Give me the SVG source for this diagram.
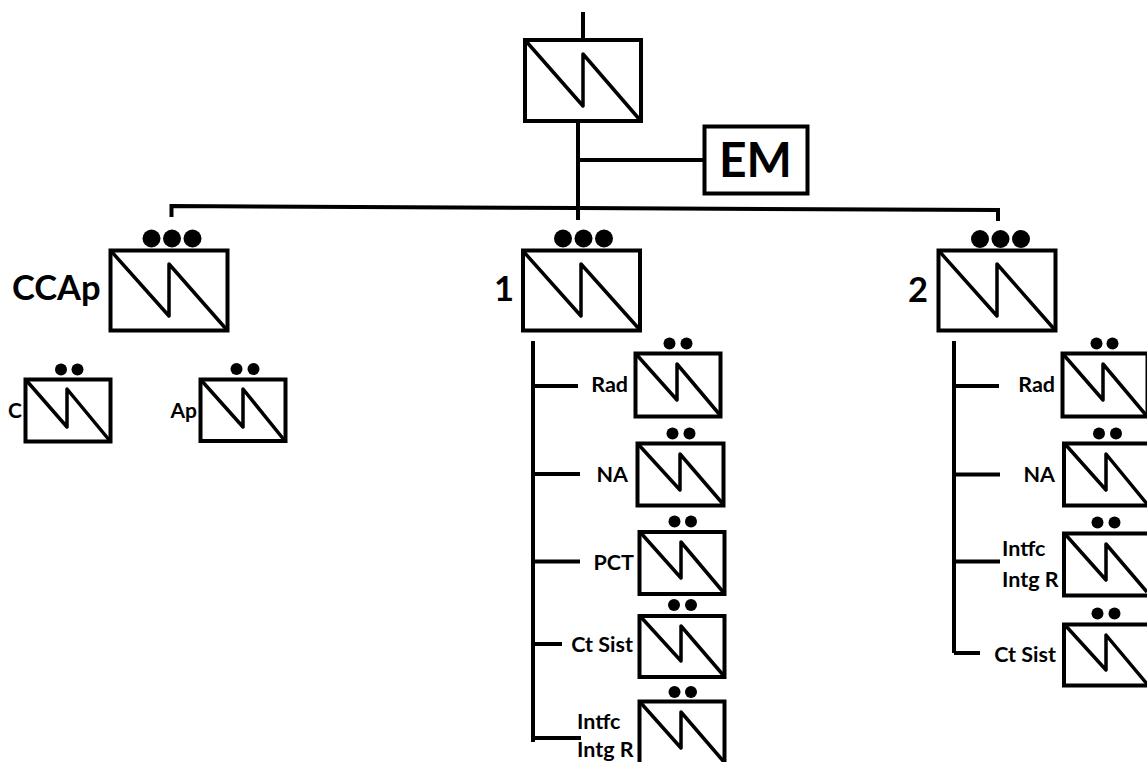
<svg xmlns="http://www.w3.org/2000/svg" width="1147" height="762" viewBox="0 0 1147 762">
<style>
.b{fill:#fff;stroke:#000;stroke-width:4}
.z{fill:none;stroke:#000;stroke-width:3.500;stroke-linejoin:round}
.c{fill:none;stroke:#000;stroke-width:4}
.t{font-family:"Lato","Carlito","Liberation Sans",sans-serif;font-weight:700;fill:#000}
.m{font-size:21.500px}.l{font-size:34.500px}.k{font-size:21px}
.e{text-anchor:end}
</style>
<rect width="1147" height="762" fill="#fff"/>
<g id="connectors">
<path class="c" d="M583 12V38"/>
<path class="c" d="M578 122V220M578 160H703"/>
<path class="c" d="M171.500 217V206L578 208L998 210V221"/>
<path class="c" d="M533 341V742M533 386H578M533 474H580M533 561.500H580M533 644H562M533 738H581"/>
<path class="c" d="M954 341V653M954 386H999M954 474.500H1000M954 561.500H1000M954 653H980"/>
</g>
<g id="node-top">
<rect class="b" x="525" y="40" width="116" height="81"/><path class="z" d="M525 40L583 106V54L640 120"/>
</g>
<g id="node-em">
<rect class="b" x="704.500" y="126.500" width="103" height="67"/>
<text class="t" x="755.500" y="177" font-size="48" text-anchor="middle">EM</text>
</g>
<g id="node-ccap">
<circle cx="151.500" cy="238.500" r="9"/><circle cx="172" cy="238.500" r="9"/><circle cx="192.500" cy="238.500" r="9"/>
<rect class="b" x="110.500" y="250.500" width="117" height="80"/><path class="z" d="M111 251L169 316V264L227 330"/>
<text class="t l" x="12" y="300">CCAp</text>
</g>
<g id="node-1">
<circle cx="563" cy="238.500" r="9"/><circle cx="583.500" cy="238.500" r="9"/><circle cx="604" cy="238.500" r="9"/>
<rect class="b" x="523" y="250.500" width="117" height="80"/><path class="z" d="M523 251L581 316V264L640 330"/>
<text class="t l" x="494" y="301">1</text>
</g>
<g id="node-2">
<circle cx="980" cy="239" r="9"/><circle cx="1000.500" cy="239" r="9"/><circle cx="1021" cy="239" r="9"/>
<rect class="b" x="938.500" y="250.500" width="117" height="80"/><path class="z" d="M939 251L997 316V264L1055 330"/>
<text class="t l" x="908" y="302">2</text>
</g>
<g id="node-c">
<circle cx="61" cy="369.500" r="6"/><circle cx="77.500" cy="369.500" r="6"/>
<rect class="b" x="25.500" y="379.500" width="85" height="62"/><path class="z" d="M26 380L67 427V389L110 441"/>
<text class="t k" x="8" y="418">C</text>
</g>
<g id="node-ap">
<circle cx="236.500" cy="369" r="6"/><circle cx="253.500" cy="369" r="6"/>
<rect class="b" x="200.500" y="379.500" width="85" height="61.500"/><path class="z" d="M201 380L243 427V389L285 441"/>
<text class="t k e" x="197" y="418">Ap</text>
</g>
<g id="node-1-rad">
<circle cx="669.500" cy="343.500" r="6"/><circle cx="686.500" cy="343.500" r="6"/>
<rect class="b" x="635.500" y="353.500" width="85" height="63"/><path class="z" d="M636 354L677 400V364L720 415"/>
<text class="t m e" x="628" y="392">Rad</text>
</g>
<g id="node-1-na">
<circle cx="672.500" cy="433.500" r="6"/><circle cx="689.500" cy="433.500" r="6"/>
<rect class="b" x="637.500" y="443.500" width="86" height="62"/><path class="z" d="M638 444L680 490V454L723 504"/>
<text class="t m e" x="628" y="482">NA</text>
</g>
<g id="node-1-pct">
<circle cx="674.500" cy="521.500" r="6"/><circle cx="691" cy="521.500" r="6"/>
<rect class="b" x="639.500" y="532" width="85" height="62"/><path class="z" d="M640 532L681 578V542L724 593"/>
<text class="t m e" x="634" y="570">PCT</text>
</g>
<g id="node-1-ct">
<circle cx="674" cy="605" r="6"/><circle cx="691" cy="605" r="6"/>
<rect class="b" x="639.500" y="616" width="85" height="61"/><path class="z" d="M640 616L681 661V626L724 676"/>
<text class="t m e" x="633" y="652">Ct Sist</text>
</g>
<g id="node-1-intfc">
<circle cx="674.500" cy="692" r="6"/><circle cx="691" cy="692" r="6"/>
<rect class="b" x="639.500" y="701.500" width="85" height="63"/><path class="z" d="M640 702L681 748V712L724 762"/>
<text class="t m" x="577" y="729">Intfc</text>
<text class="t m" x="577" y="756.500">Intg R</text>
</g>
<g id="node-2-rad">
<circle cx="1096.500" cy="343.500" r="6"/><circle cx="1112.500" cy="343.500" r="6"/>
<rect class="b" x="1062.500" y="353.500" width="85" height="63"/><path class="z" d="M1063 354L1103 400V364L1146 415"/>
<text class="t m e" x="1055" y="392">Rad</text>
</g>
<g id="node-2-na">
<circle cx="1099" cy="433.500" r="6"/><circle cx="1116" cy="433.500" r="6"/>
<rect class="b" x="1064" y="443.500" width="86" height="62"/><path class="z" d="M1065 444L1106 490V454L1147 504"/>
<text class="t m e" x="1055" y="482">NA</text>
</g>
<g id="node-2-intfc">
<circle cx="1097.500" cy="522.500" r="6"/><circle cx="1114.500" cy="522.500" r="6"/>
<rect class="b" x="1064" y="533.500" width="86" height="62"/><path class="z" d="M1065 534L1106 580V544L1147 592"/>
<text class="t m" x="1002" y="556">Intfc</text>
<text class="t m" x="1002" y="587">Intg R</text>
</g>
<g id="node-2-ct">
<circle cx="1097.500" cy="613.500" r="6"/><circle cx="1114.500" cy="613.500" r="6"/>
<rect class="b" x="1064" y="624.500" width="86" height="61"/><path class="z" d="M1065 625L1106 670V635L1147 684"/>
<text class="t m e" x="1056" y="662">Ct Sist</text>
</g>
</svg>
